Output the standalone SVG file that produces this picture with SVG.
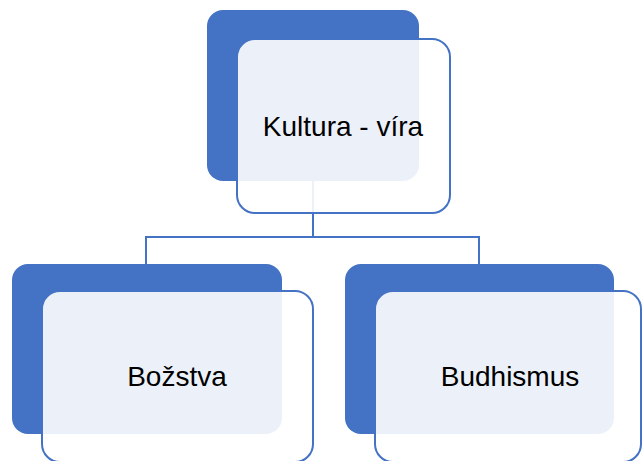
<svg xmlns="http://www.w3.org/2000/svg" width="642" height="461" viewBox="0 0 642 461">
<style>
.back{fill:#4472C4;}
.front{fill:#FFFFFF;fill-opacity:0.9;stroke:#4472C4;stroke-width:2;}
.conn{fill:none;stroke:#4472C4;stroke-width:2;}
.lbl{font-family:"Liberation Sans","Open Sans",Arial,sans-serif;font-size:28px;fill:#000;text-anchor:middle;}
</style>
<rect width="642" height="461" fill="#FFFFFF"/>
<g id="connectors">
<path class="conn" d="M313,181 V237 M146,264 V237 H479 V264"/>
</g>
<g id="node-kultura">
<rect class="back" x="207" y="10" width="212" height="171" rx="16"/>
<rect class="front" x="237" y="39" width="213" height="174" rx="18"/>
<text class="lbl" x="343" y="136">Kultura - víra</text>
</g>
<g id="node-bozstva">
<rect class="back" x="12" y="264" width="270" height="170" rx="16"/>
<rect class="front" x="42" y="291" width="271" height="171" rx="18"/>
<text class="lbl" x="177" y="386">Božstva</text>
</g>
<g id="node-budhismus">
<rect class="back" x="345" y="264" width="269" height="170" rx="16"/>
<rect class="front" x="375" y="291" width="266" height="171" rx="18"/>
<text class="lbl" x="510" y="386">Budhismus</text>
</g>
</svg>
